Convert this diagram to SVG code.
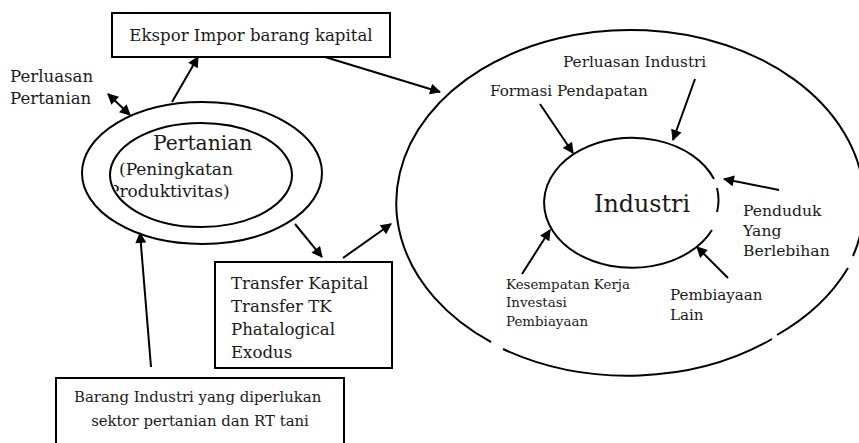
<svg xmlns="http://www.w3.org/2000/svg" width="859" height="443" viewBox="0 0 859 443">
  <style>
    .t { font-family: "DejaVu Serif", "Liberation Serif", serif; fill: #1a1a1a; }
    .box { fill: #fff; stroke: #000; stroke-width: 2; }
    .ring { fill: none; stroke: #000; stroke-width: 2; }
    .arr { fill: none; stroke: #000; stroke-width: 2; marker-end: url(#head); }
  </style>
  <defs>
    <marker id="head" viewBox="0 0 10 10" refX="9" refY="5" markerWidth="6" markerHeight="5.5" markerUnits="strokeWidth" orient="auto">
      <path d="M0,0 L10,5 L0,10 z" fill="#000"/>
    </marker>
    <marker id="tail" viewBox="0 0 10 10" refX="1" refY="5" markerWidth="6" markerHeight="5.5" markerUnits="strokeWidth" orient="auto">
      <path d="M10,0 L0,5 L10,10 z" fill="#000"/>
    </marker>
    <clipPath id="innerClip">
      <ellipse cx="201" cy="175" rx="89" ry="51"/>
    </clipPath>
  </defs>

  <rect width="859" height="443" fill="#fff"/>

  <!-- Industry sector: outer ring with small breaks, inner ring -->
  <g id="industri-outer">
    <path class="ring" d="M853,256 A234,173 0 1 0 491,342"/>
    <path class="ring" d="M503,349 A234,173 0 0 0 772,339"/>
    <path class="ring" d="M777,335 A234,173 0 0 0 848,268"/>
  </g>
  <g id="industri">
    <path class="ring" d="M714,179 A88,65 0 1 0 712,230"/>
    <path class="ring" d="M717,188 A88,65 0 0 1 717,212"/>
    <text class="t" x="594" y="212" font-size="23.8">Industri</text>
  </g>

  <!-- Agriculture sector -->
  <g id="pertanian">
    <ellipse class="ring" cx="202" cy="173" rx="120" ry="71"/>
    <ellipse class="ring" cx="201" cy="175" rx="91" ry="52"/>
    <text class="t" x="153" y="150" font-size="20.3">Pertanian</text>
    <g clip-path="url(#innerClip)">
      <text class="t" x="119" y="175" font-size="17">(Peningkatan</text>
      <text class="t" x="108" y="197" font-size="17">Produktivitas)</text>
    </g>
  </g>

  <g id="ekspor">
    <rect class="box" x="112" y="13" width="278" height="44"/>
    <text class="t" x="251" y="41" font-size="16.6" text-anchor="middle">Ekspor Impor barang kapital</text>
  </g>

  <g id="transfer">
    <rect class="box" x="215" y="262" width="177" height="106"/>
    <text class="t" font-size="16.6">
      <tspan x="231" y="289">Transfer Kapital</tspan>
      <tspan x="231" y="312">Transfer TK</tspan>
      <tspan x="231" y="335">Phatalogical</tspan>
      <tspan x="231" y="358">Exodus</tspan>
    </text>
  </g>

  <g id="barang">
    <rect class="box" x="56" y="378" width="288" height="70"/>
    <text class="t" font-size="14.9" text-anchor="middle">
      <tspan x="200" y="402">Barang Industri yang diperlukan</tspan>
      <tspan x="200" y="426">sektor pertanian dan RT tani</tspan>
    </text>
  </g>

  <!-- Free labels -->
  <g id="perluasan-pertanian">
    <text class="t" font-size="16.6">
      <tspan x="10" y="82">Perluasan</tspan>
      <tspan x="10" y="104">Pertanian</tspan>
    </text>
  </g>
  <g id="perluasan-industri">
    <text class="t" x="563" y="67" font-size="15.3">Perluasan Industri</text>
  </g>
  <g id="formasi">
    <text class="t" x="490" y="96" font-size="15.2">Formasi Pendapatan</text>
  </g>
  <g id="penduduk">
    <text class="t" font-size="15.6">
      <tspan x="743" y="216">Penduduk</tspan>
      <tspan x="743" y="236">Yang</tspan>
      <tspan x="743" y="256">Berlebihan</tspan>
    </text>
  </g>
  <g id="pembiayaan-lain">
    <text class="t" font-size="15.1">
      <tspan x="670" y="300">Pembiayaan</tspan>
      <tspan x="670" y="320">Lain</tspan>
    </text>
  </g>
  <g id="kesempatan">
    <text class="t" font-size="13.4">
      <tspan x="506" y="289">Kesempatan Kerja</tspan>
      <tspan x="506" y="307">Investasi</tspan>
      <tspan x="506" y="326">Pembiayaan</tspan>
    </text>
  </g>

  <!-- Connectors -->
  <g id="connectors">
    <path class="arr" d="M108,94 L130,115" marker-start="url(#tail)"/>
    <path class="arr" d="M172,102 L198,57"/>
    <path class="arr" d="M325,57 L440,92"/>
    <path class="arr" d="M295,224 L322,257"/>
    <path class="arr" d="M343,258 L391,224"/>
    <path class="arr" d="M151,367 L140,233"/>
    <path class="arr" d="M540,104 L573,153"/>
    <path class="arr" d="M695,79 L673,140"/>
    <path class="arr" d="M779,190 L724,179"/>
    <path class="arr" d="M728,278 L697,247"/>
    <path class="arr" d="M522,274 L550,230"/>
  </g>
</svg>
